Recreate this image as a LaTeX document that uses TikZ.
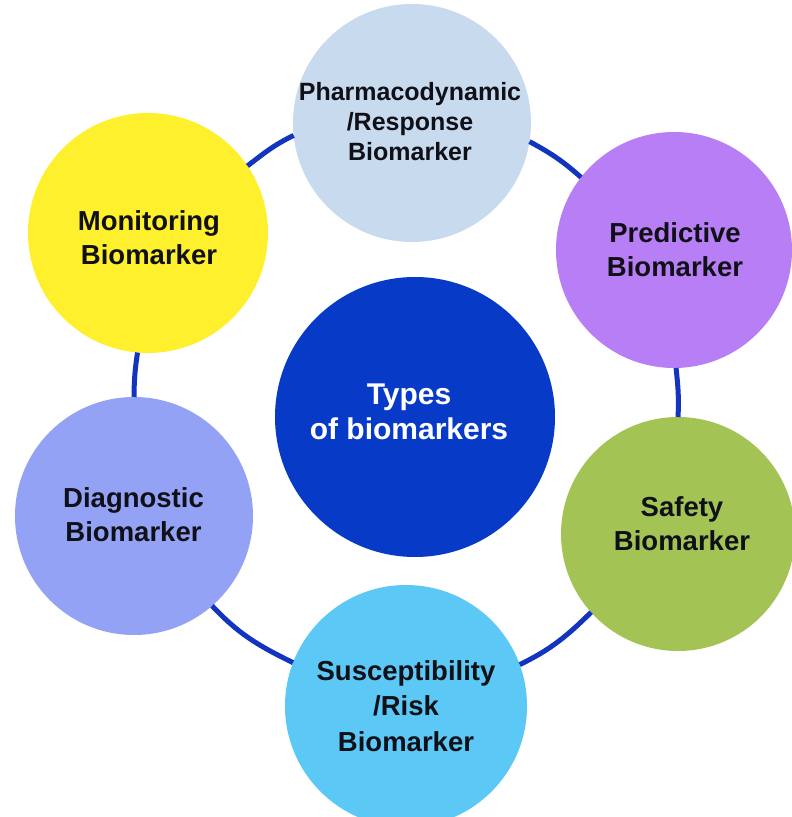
\documentclass[tikz,border=0pt]{standalone}
\usepackage{fontspec}
\setmainfont{Liberation Sans}
\usetikzlibrary{topaths}
\definecolor{cPharma}{RGB}{200,218,238}
\definecolor{cMon}{RGB}{255,240,45}
\definecolor{cPred}{RGB}{184,126,245}
\definecolor{cCenter}{RGB}{8,58,200}
\definecolor{cDiag}{RGB}{148,162,245}
\definecolor{cSafety}{RGB}{163,196,84}
\definecolor{cSusc}{RGB}{92,200,245}
\definecolor{cRing}{RGB}{18,52,190}
\definecolor{cText}{RGB}{16,16,24}
\begin{document}
\begin{tikzpicture}[x=1pt,y=1pt,
  bubble/.style={circle,draw=none,inner sep=0pt,outer sep=0pt},
  lbl/.style={align=center,text=cText,font=\bfseries\fontsize{27.5}{34}\selectfont,inner sep=0pt},
  ringline/.style={draw=cRing,line width=5pt}]
\useasboundingbox (0,0) rectangle (792,817);
\clip (0,0) rectangle (792,817);
\fill[white] (0,0) rectangle (792,817);
% circles
\node[bubble,fill=cMon,minimum size=240pt] (M) at (148,584) {};
\node[bubble,fill=cPharma,minimum size=238pt] (P) at (412,694) {};
\node[bubble,fill=cPred,minimum size=236pt] (R) at (674,567) {};
\node[bubble,fill=cSafety,minimum size=234pt] (S) at (678,283) {};
\node[bubble,fill=cSusc,minimum size=242pt] (U) at (406,111) {};
\node[bubble,fill=cDiag,minimum size=238pt] (D) at (134,301) {};
\node[bubble,fill=cCenter,minimum size=280pt] (C) at (415,400) {};
% connectors
\draw[ringline] (M.34.6) to[out=37.6,in=205.8] (P.186.2);
\draw[ringline] (P.351) to[out=-28.5,in=138.2] (R.142.3);
\draw[ringline] (R.271.1) to[out=-84,in=86.9] (S.90.2);
\draw[ringline] (S.222.1) to[out=224.7,in=26.0] (U.20.5);
\draw[ringline] (U.159.5) to[out=154,in=-46.8] (D.311.8);
\draw[ringline] (D.90) to[out=89.4,in=261.3] (M.265);
% labels
\node[lbl] (Mt) at (149,579) {Monitoring\\Biomarker};
\node[lbl,font=\bfseries\fontsize{25}{30}\selectfont] (Pt) at (410,695) {Pharmacodynamic\\/Response\\Biomarker};
\node[lbl] (Rt) at (675,567) {Predictive\\Biomarker};
\node[lbl] (St) at (682,293.5) {Safety\\Biomarker};
\node[lbl,font=\bfseries\fontsize{27.5}{35.5}\selectfont] (Ut) at (406,111) {Susceptibility\\/Risk\\Biomarker};
\node[lbl] (Dt) at (133.5,302) {Diagnostic\\Biomarker};
\node[lbl,text=white,font=\bfseries\fontsize{30}{35}\selectfont] (Ct) at (409,405) {Types\\of biomarkers};
\end{tikzpicture}
\end{document}
